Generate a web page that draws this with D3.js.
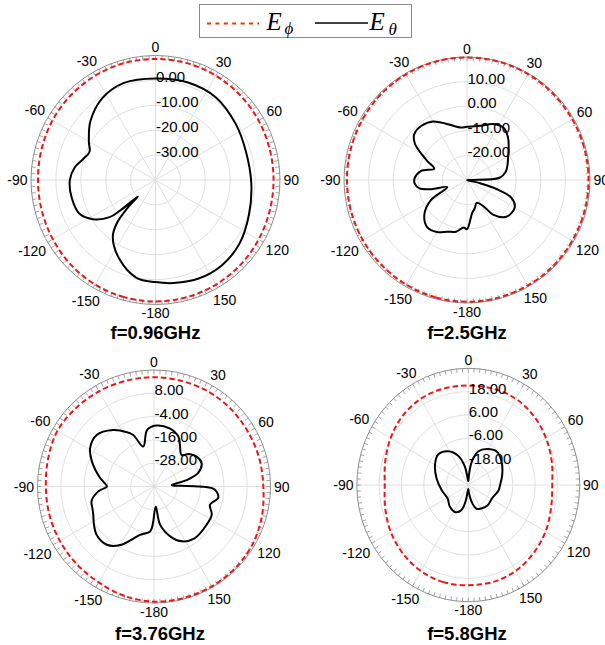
<!DOCTYPE html>
<html>
<head>
<meta charset="utf-8">
<script src="https://cdn.jsdelivr.net/npm/d3@7"></script>
<style>
  body { margin: 0; background: #fff; }
  svg { display: block; }
</style>
</head>
<body>
<svg id="chart" width="605" height="645"></svg>
<script>
// ---- Radiation pattern data: angle in degrees (clockwise from 0), gain in dB ----

// Azimuth tick marks and their labels
const angleTicks = [0, 30, 60, 90, 120, 150, 180, 210, 240, 270, 300, 330];
const angleTickLabels = ["0", "30", "60", "90", "120", "150", "-180", "-150", "-120", "-90", "-60", "-30"];

// Frequencies shown
const freqLabels = ["f=0.96GHz", "f=2.5GHz", "f=3.76GHz", "f=5.8GHz"];

// Radial gain range and grid circles for each frequency
const gainDomains = [[-40, 10], [-30, 20], [-40, 20], [-30, 30]];
const ringValues = [[-30, -20, -10, 0], [-20, -10, 0, 10], [-28, -16, -4, 8], [-18, -6, 6, 18]];
const ringLabels = [
  ["-30.00", "-20.00", "-10.00", "0.00"],
  ["-20.00", "-10.00", "0.00", "10.00"],
  ["-28.00", "-16.00", "-4.00", "8.00"],
  ["-18.00", "-6.00", "6.00", "18.00"]
];

// E_phi (sampled every 15 degrees)
const phiAngles = [-180, -165, -150, -135, -120, -105, -90, -75, -60, -45, -30, -15,
                   0, 15, 30, 45, 60, 75, 90, 105, 120, 135, 150, 165];
const phiGain096 = [8.8, 8.7, 8.5, 8.1, 7.6, 7.3, 7.2, 7.4, 7.8, 8.1, 8.4, 8.6,
                    8.6, 8.6, 8.4, 8.1, 7.8, 7.5, 7.4, 7.5, 7.8, 8.2, 8.5, 8.7];
const phiGain25 = [19.5, 19.4, 19.2, 19.0, 18.9, 18.8, 18.8, 18.9, 19.1, 19.4, 19.6, 19.8,
                   19.8, 19.8, 19.7, 19.5, 19.4, 19.4, 19.4, 19.4, 19.4, 19.5, 19.5, 19.5];
const phiGain376 = [19.3, 18.4, 17.0, 16.4, 16.0, 15.8, 15.7, 16.4, 17.4, 17.0, 16.6, 16.3,
                    16.3, 16.2, 16.3, 16.2, 16.0, 16.1, 16.3, 17.6, 18.8, 19.3, 19.4, 19.4];
const phiGain58 = [21.5, 21.7, 21.1, 19.8, 18.2, 16.3, 15.0, 16.3, 18.3, 20.1, 21.2, 21.3,
                   21.1, 21.3, 21.2, 20.0, 18.3, 16.5, 15.2, 16.1, 18.0, 19.6, 21.0, 21.6];

// E_theta
const thetaAngles096 = [-180, -169, -155, -143, -138, -135, -133, -131, -129, -122, -114, -102, -90,
                        -81, -74, -67, -60, -48, -33, -18, 0, 18, 36, 55, 72, 92, 110, 127, 142, 156, 170];
const thetaGain096 = [1.0, 0, -5.3, -11.5, -17, -24, -30.3, -22, -16.3, -10.3, -6.6, -5.6, -5.6,
                      -7.2, -9.7, -11.2, -9.1, -4.8, -0.8, 1.0, 0.8, 1.3, 1.1, -0.7, -1.9, -1.5, 0, 2.3, 3.4, 3.2, 2.0];

const thetaAngles25 = [-180, -176, -168, -159, -150, -140, -129, -119, -110, -104, -100, -94, -88, -79,
                       -71, -65, -61, -55, -49, -40, -30, -19, -7, 0, 14, 25, 35, 44, 52, 61, 70, 78,
                       86, 89, 93, 104, 107, 112, 120, 133, 143, 148, 157, 165, 171];
const thetaGain25 = [-10.0, -10.6, -8.5, -7.5, -5.6, -4.9, -7.7, -13.3, -21.5, -14.5, -10.4, -8.7, -8.7, -10.9,
                     -15.9, -12.5, -9.4, -4.1, -1.6, -1.2, -2.5, -6, -8.5, -8.4, -7.3, -4.9, -4.1, -6, -8.5, -10.9, -12.5, -13.9,
                     -16.7, -28, -30, -24.5, -17.5, -10.5, -7.6, -8.1, -12.4, -17.5, -19.9, -18, -16.5];

const thetaAngles376 = [-178, -175, -164, -150, -141, -130, -122, -115, -109, -103, -95, -90, -85, -81,
                        -68, -59, -48, -36, -27, -22, -15, -7, 2, 15, 26, 32, 41, 47, 55, 64, 73, 79,
                        85, 87, 88.5, 90, 93, 100, 108, 116, 126, 142, 153, 162, 171, 175];
const thetaGain376 = [-20.3, -16.7, -14.1, -5.2, -1.4, -1.4, -3.5, -5.5, -6.4, -7, -11.2, -15.7, -14, -11.9,
                      -5.5, -1.6, -0.3, -4.1, -8.5, -11.4, -18.7, -10.7, -8.6, -9, -11.4, -14.8, -18.4, -15.5, -13.2, -12.7, -16.2, -22.9,
                      -30.9, -30, -26, -16.3, -8.6, -6.4, -9.7, -6.9, -6.5, -6.1, -8.3, -13, -20.1, -29.5];

const thetaAngles58 = [-174, -170, -164, -154, -138, -122, -100, -79, -60, -46, -32, -20, -11, -6,
                       0, 4, 7, 11, 17, 28, 42, 56, 74, 90, 100, 118, 135, 150, 160, 167, 175, 180];
const thetaGain58 = [-26.6, -21.3, -16.6, -14.4, -15.1, -16.9, -15.4, -12.6, -9.3, -7.4, -9.5, -14, -20.4, -26.6,
                     -28, -25, -20, -16, -12, -9.1, -7, -8.4, -11, -12.9, -13.5, -15.5, -15.2, -16, -17, -20.3, -25.7, -28];

const phiSeries = [phiGain096, phiGain25, phiGain376, phiGain58];
const thetaSeries = [
  [thetaAngles096, thetaGain096],
  [thetaAngles25, thetaGain25],
  [thetaAngles376, thetaGain376],
  [thetaAngles58, thetaGain58]
];

// ---- Layout of the four polar panels ----
const panels = [
  { cx: 155.5, cy: 180,   R: 124.5, sx: 1,     titleX: 155.5, titleY: 339 },
  { cx: 467,   cy: 180,   R: 123,   sx: 1,     titleX: 467,   titleY: 339 },
  { cx: 154,   cy: 486.5, R: 116.5, sx: 1,     titleX: 160,   titleY: 640 },
  { cx: 468.3, cy: 485,   R: 116.7, sx: 0.955, titleX: 467,   titleY: 640 }
];

const FONT = "'Liberation Sans', Arial, Helvetica, sans-serif";
const RED = "#f01616";
const GRID = "#dcdcdc";
const RING = "#8f8f8f";

const svg = d3.select("#chart");
svg.append("rect").attr("width", 605).attr("height", 645).attr("fill", "#fff");

function drawPanel(i) {
  const p = panels[i];
  const g = svg.append("g").attr("transform", `translate(${p.cx},${p.cy})`);
  const r = d3.scaleLinear().domain(gainDomains[i]).range([0, p.R]).clamp(true);
  const rad = a => a * Math.PI / 180;
  const px = (a, d) => p.sx * d * Math.sin(rad(a));
  const py = (a, d) => -d * Math.cos(rad(a));

  // grid circles
  g.selectAll("ellipse.grid").data(ringValues[i]).join("ellipse")
    .attr("class", "grid")
    .attr("rx", v => p.sx * r(v)).attr("ry", v => r(v))
    .attr("fill", "none").attr("stroke", GRID).attr("stroke-width", 0.9);

  // spokes
  g.selectAll("line.spoke").data(angleTicks).join("line")
    .attr("class", "spoke")
    .attr("x1", 0).attr("y1", 0)
    .attr("x2", a => px(a, p.R)).attr("y2", a => py(a, p.R))
    .attr("stroke", GRID).attr("stroke-width", 0.9);

  // outer ring with minor ticks
  g.append("ellipse").attr("rx", p.sx * p.R).attr("ry", p.R)
    .attr("fill", "none").attr("stroke", RING).attr("stroke-width", 1);
  g.selectAll("line.tick").data(d3.range(0, 360, 3)).join("line")
    .attr("class", "tick")
    .attr("x1", a => px(a, p.R)).attr("y1", a => py(a, p.R))
    .attr("x2", a => px(a, p.R - 4)).attr("y2", a => py(a, p.R - 4))
    .attr("stroke", RING).attr("stroke-width", 0.8);

  const line = d3.line()
    .x(d => px(d[0], r(d[1])))
    .y(d => py(d[0], r(d[1])))
    .curve(d3.curveCatmullRomClosed.alpha(0.5));

  // E_phi
  g.append("path").datum(d3.zip(phiAngles, phiSeries[i]))
    .attr("d", line).attr("fill", "none")
    .attr("stroke", RED).attr("stroke-width", 2)
    .attr("stroke-dasharray", "5.5,3");

  // E_theta
  const [ta, tg] = thetaSeries[i];
  g.append("path").datum(d3.zip(ta, tg))
    .attr("d", line).attr("fill", "none")
    .attr("stroke", "#000").attr("stroke-width", 2)
    .attr("stroke-linejoin", "round");

  // radial gain labels
  g.selectAll("text.rlab").data(ringValues[i]).join("text")
    .attr("class", "rlab")
    .attr("x", 0.5).attr("y", v => -r(v) + 2)
    .attr("font-family", FONT).attr("font-size", 15)
    .attr("fill", "#000")
    .text((v, k) => ringLabels[i][k]);

  // azimuth labels, placed just outside the ring
  angleTicks.forEach((a, k) => {
    const t = g.append("text")
      .attr("font-family", FONT).attr("font-size", 14)
      .attr("text-anchor", "middle").attr("fill", "#000")
      .text(angleTickLabels[k]);
    const w = t.node().getComputedTextLength();
    const s = Math.abs(Math.sin(rad(a))), c = Math.abs(Math.cos(rad(a)));
    const off = p.R + 3.5 + s * w / 2 / p.sx + c * 5;
    t.attr("x", px(a, off)).attr("y", py(a, off) + 5);
  });

  // frequency title
  svg.append("text")
    .attr("x", p.titleX).attr("y", p.titleY)
    .attr("text-anchor", "middle")
    .attr("font-family", FONT).attr("font-size", 18.5).attr("font-weight", "bold")
    .attr("fill", "#000")
    .text(freqLabels[i]);
}

panels.forEach((p, i) => drawPanel(i));

// ---- Legend ----
const lg = svg.append("g");
lg.append("rect").attr("x", 199.5).attr("y", 4.5).attr("width", 212).attr("height", 33)
  .attr("fill", "#fff").attr("stroke", "#8a8a8a").attr("stroke-width", 1);
lg.append("line").attr("x1", 207).attr("x2", 259).attr("y1", 23.5).attr("y2", 23.5)
  .attr("stroke", "#ff2a00").attr("stroke-width", 1.8).attr("stroke-dasharray", "4,4.4");
lg.append("line").attr("x1", 315).attr("x2", 368).attr("y1", 23).attr("y2", 23)
  .attr("stroke", "#000").attr("stroke-width", 1.5);

const SERIF = "'Liberation Serif', 'Times New Roman', serif";
lg.append("text").attr("x", 266.5).attr("y", 29.5)
  .attr("font-family", SERIF).attr("font-style", "italic").attr("font-size", 25).text("E");
lg.append("text").attr("x", 284.5).attr("y", 33.5)
  .attr("font-family", SERIF).attr("font-style", "italic").attr("font-size", 17).text("ϕ");
lg.append("text").attr("x", 369.5).attr("y", 29.5)
  .attr("font-family", SERIF).attr("font-style", "italic").attr("font-size", 25).text("E");
lg.append("text").attr("x", 388.5).attr("y", 34.5)
  .attr("font-family", SERIF).attr("font-style", "italic").attr("font-size", 17).text("θ");
</script>
</body>
</html>
